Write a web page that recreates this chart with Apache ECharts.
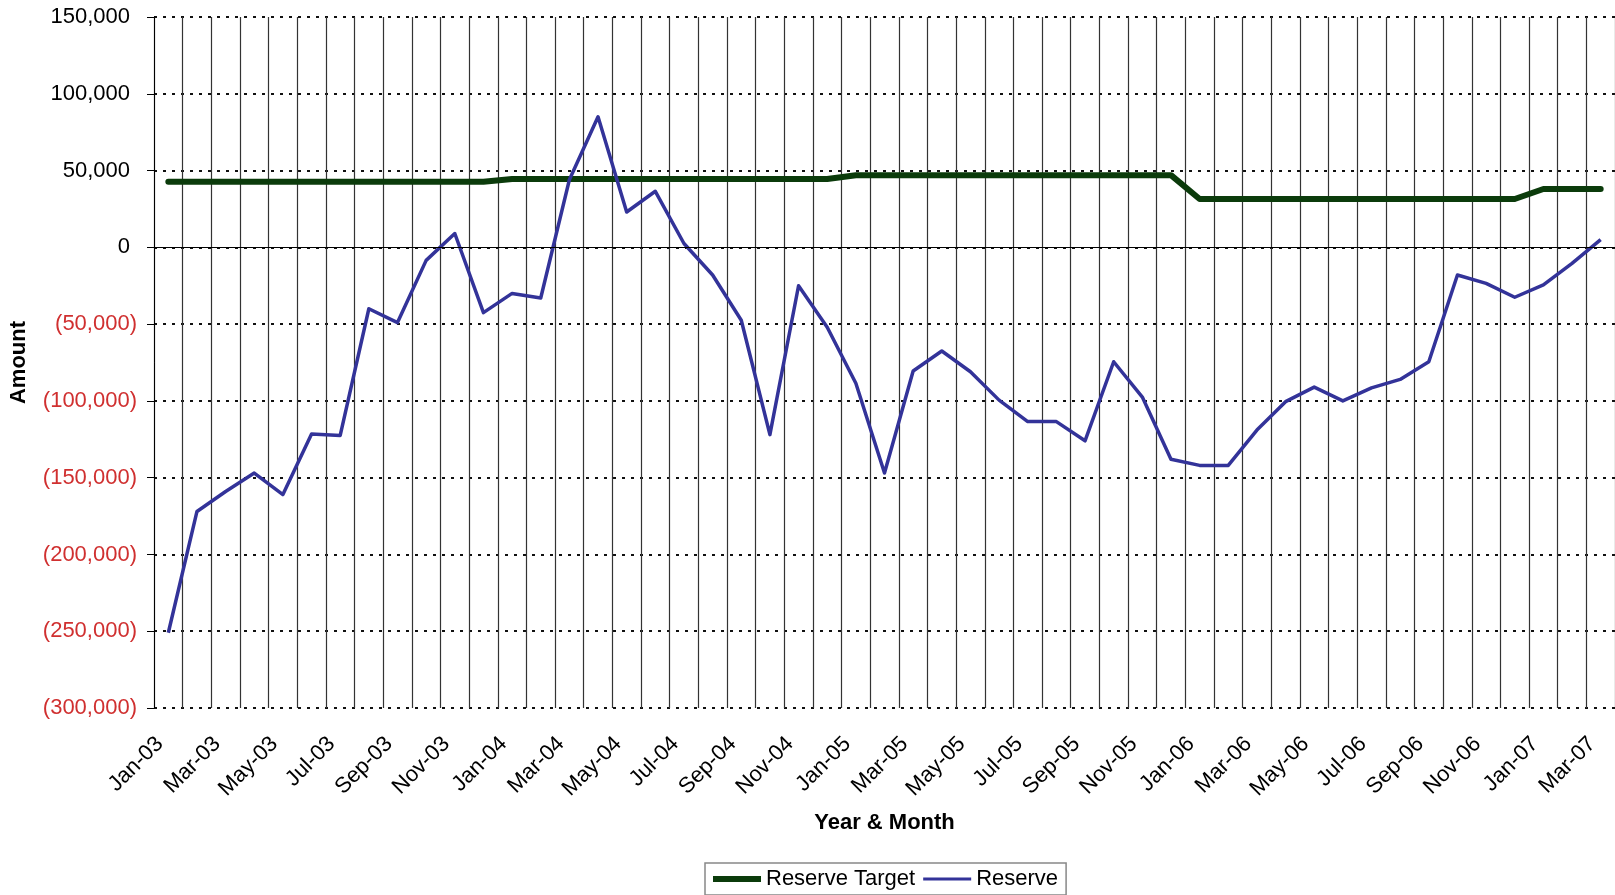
<!DOCTYPE html>
<html>
<head>
<meta charset="utf-8">
<script src="https://cdn.jsdelivr.net/npm/echarts@6.0.0/dist/echarts.min.js"></script>
<style>
	html, body { margin: 0; padding: 0; background: #fff; }
	#chart { width: 1615px; height: 895px; }
</style>
</head>
<body>
<div id="chart"></div>
<script>
// months Jan-03 .. Mar-07
let months = [
	"Jan-03", "Feb-03", "Mar-03", "Apr-03", "May-03", "Jun-03", "Jul-03", "Aug-03", "Sep-03", "Oct-03", "Nov-03", "Dec-03",
	"Jan-04", "Feb-04", "Mar-04", "Apr-04", "May-04", "Jun-04", "Jul-04", "Aug-04", "Sep-04", "Oct-04", "Nov-04", "Dec-04",
	"Jan-05", "Feb-05", "Mar-05", "Apr-05", "May-05", "Jun-05", "Jul-05", "Aug-05", "Sep-05", "Oct-05", "Nov-05", "Dec-05",
	"Jan-06", "Feb-06", "Mar-06", "Apr-06", "May-06", "Jun-06", "Jul-06", "Aug-06", "Sep-06", "Oct-06", "Nov-06", "Dec-06",
	"Jan-07", "Feb-07", "Mar-07"
];

let reserveTarget = [
	42700, 42700, 42700, 42700, 42700, 42700, 42700, 42700, 42700, 42700, 42700, 42700,
	44500, 44500, 44500, 44500, 44500, 44500, 44500, 44500, 44500, 44500, 44500, 44500,
	47000, 47000, 47000, 47000, 47000, 47000, 47000, 47000, 47000, 47000, 47000, 47000,
	31500, 31500, 31500, 31500, 31500, 31500, 31500, 31500, 31500, 31500, 31500, 31500,
	38000, 38000, 38000
];

let reserve = [
	-251000, -172000, -159000, -147000, -161000, -121500, -122500, -40000, -49000, -8500, 9000, -42500,
	-30000, -33000, 44000, 85000, 23000, 36500, 2500, -18000, -47500, -122000, -25000, -52000,
	-88500, -147000, -80500, -67500, -81000, -99500, -113500, -113500, -126000, -74500, -97500, -138000,
	-142000, -142000, -119000, -100500, -91000, -100000, -91500, -86000, -74500, -18000, -23500, -32500,
	-24500, -10500, 5000
];

let yTicks = { min: -300000, max: 150000, step: 50000 };

const font = "Liberation Sans";
const green = "#0b3b0b";
const blue = "#333399";

let myChart = echarts.init(document.getElementById("chart"));

let option = {
	animation: false,
	backgroundColor: "#fff",
	grid: {
		left: 154,
		right: 0,
		top: 17,
		bottom: 187
	},
	legend: {
		left: 705,
		top: 863,
		padding: [5, 8, 5, 8],
		itemWidth: 48,
		itemHeight: 14,
		itemGap: 8,
		borderColor: "#888",
		borderWidth: 1.5,
		textStyle: { fontFamily: font, fontSize: 22, color: "#000" },
		data: [
			{ name: "Reserve Target", icon: "path://M0,0H48V6H0Z", itemStyle: { color: green } },
			{ name: "Reserve", icon: "path://M0,0H48V3H0Z", itemStyle: { color: blue } }
		]
	},
	xAxis: {
		type: "category",
		data: months,
		boundaryGap: true,
		name: "Year & Month",
		nameLocation: "middle",
		nameGap: 104,
		nameTextStyle: { fontFamily: font, fontSize: 22, fontWeight: "bold", color: "#000" },
		axisLine: { show: false },
		axisTick: { show: false },
		axisLabel: {
			interval: 1,
			rotate: 45,
			margin: 24,
			padding: [0, 12, 0, 0],
			fontFamily: font,
			fontSize: 22,
			color: "#000"
		},
		splitLine: {
			show: true,
			interval: 0,
			lineStyle: { color: "#333", width: 1.2, type: "solid" }
		}
	},
	yAxis: {
		type: "value",
		min: yTicks.min,
		max: yTicks.max,
		interval: yTicks.step,
		name: "Amount",
		nameLocation: "middle",
		nameGap: 124,
		nameTextStyle: { fontFamily: font, fontSize: 22, fontWeight: "bold", color: "#000" },
		axisLine: { show: true, lineStyle: { color: "#000", width: 1 } },
		axisTick: { show: true, length: 7, lineStyle: { color: "#000" } },
		axisLabel: {
			margin: 17,
			fontFamily: font,
			fontSize: 22,
			formatter: function (v) {
				let s = Math.abs(v).toLocaleString("en-US");
				if (v < 0) return "{neg|(" + s + ")}";
				return "{pos|" + s + "}";
			},
			rich: {
				neg: { color: "#d03030", fontFamily: font, fontSize: 22 },
				// positives leave room for the ")" like the accounting format
				pos: { color: "#000", fontFamily: font, fontSize: 22, padding: [0, 7, 0, 0] }
			}
		},
		splitLine: {
			show: true,
			lineStyle: { color: "#111", width: 1.8, type: [3, 6] }
		}
	},
	series: [
		{
			name: "Reserve Target",
			type: "line",
			data: reserveTarget,
			symbol: "none",
			lineStyle: { color: green, width: 6, cap: "round", join: "round" },
			itemStyle: { color: green }
		},
		{
			name: "Reserve",
			type: "line",
			data: reserve,
			symbol: "none",
			lineStyle: { color: blue, width: 3.5, join: "round" },
			itemStyle: { color: blue },
			markLine: {
				silent: true,
				symbol: "none",
				label: { show: false },
				lineStyle: { color: "#000", width: 1, type: "solid" },
				data: [{ yAxis: 0 }]
			},
			z: 3
		}
	]
};

myChart.setOption(option);
</script>
</body>
</html>
